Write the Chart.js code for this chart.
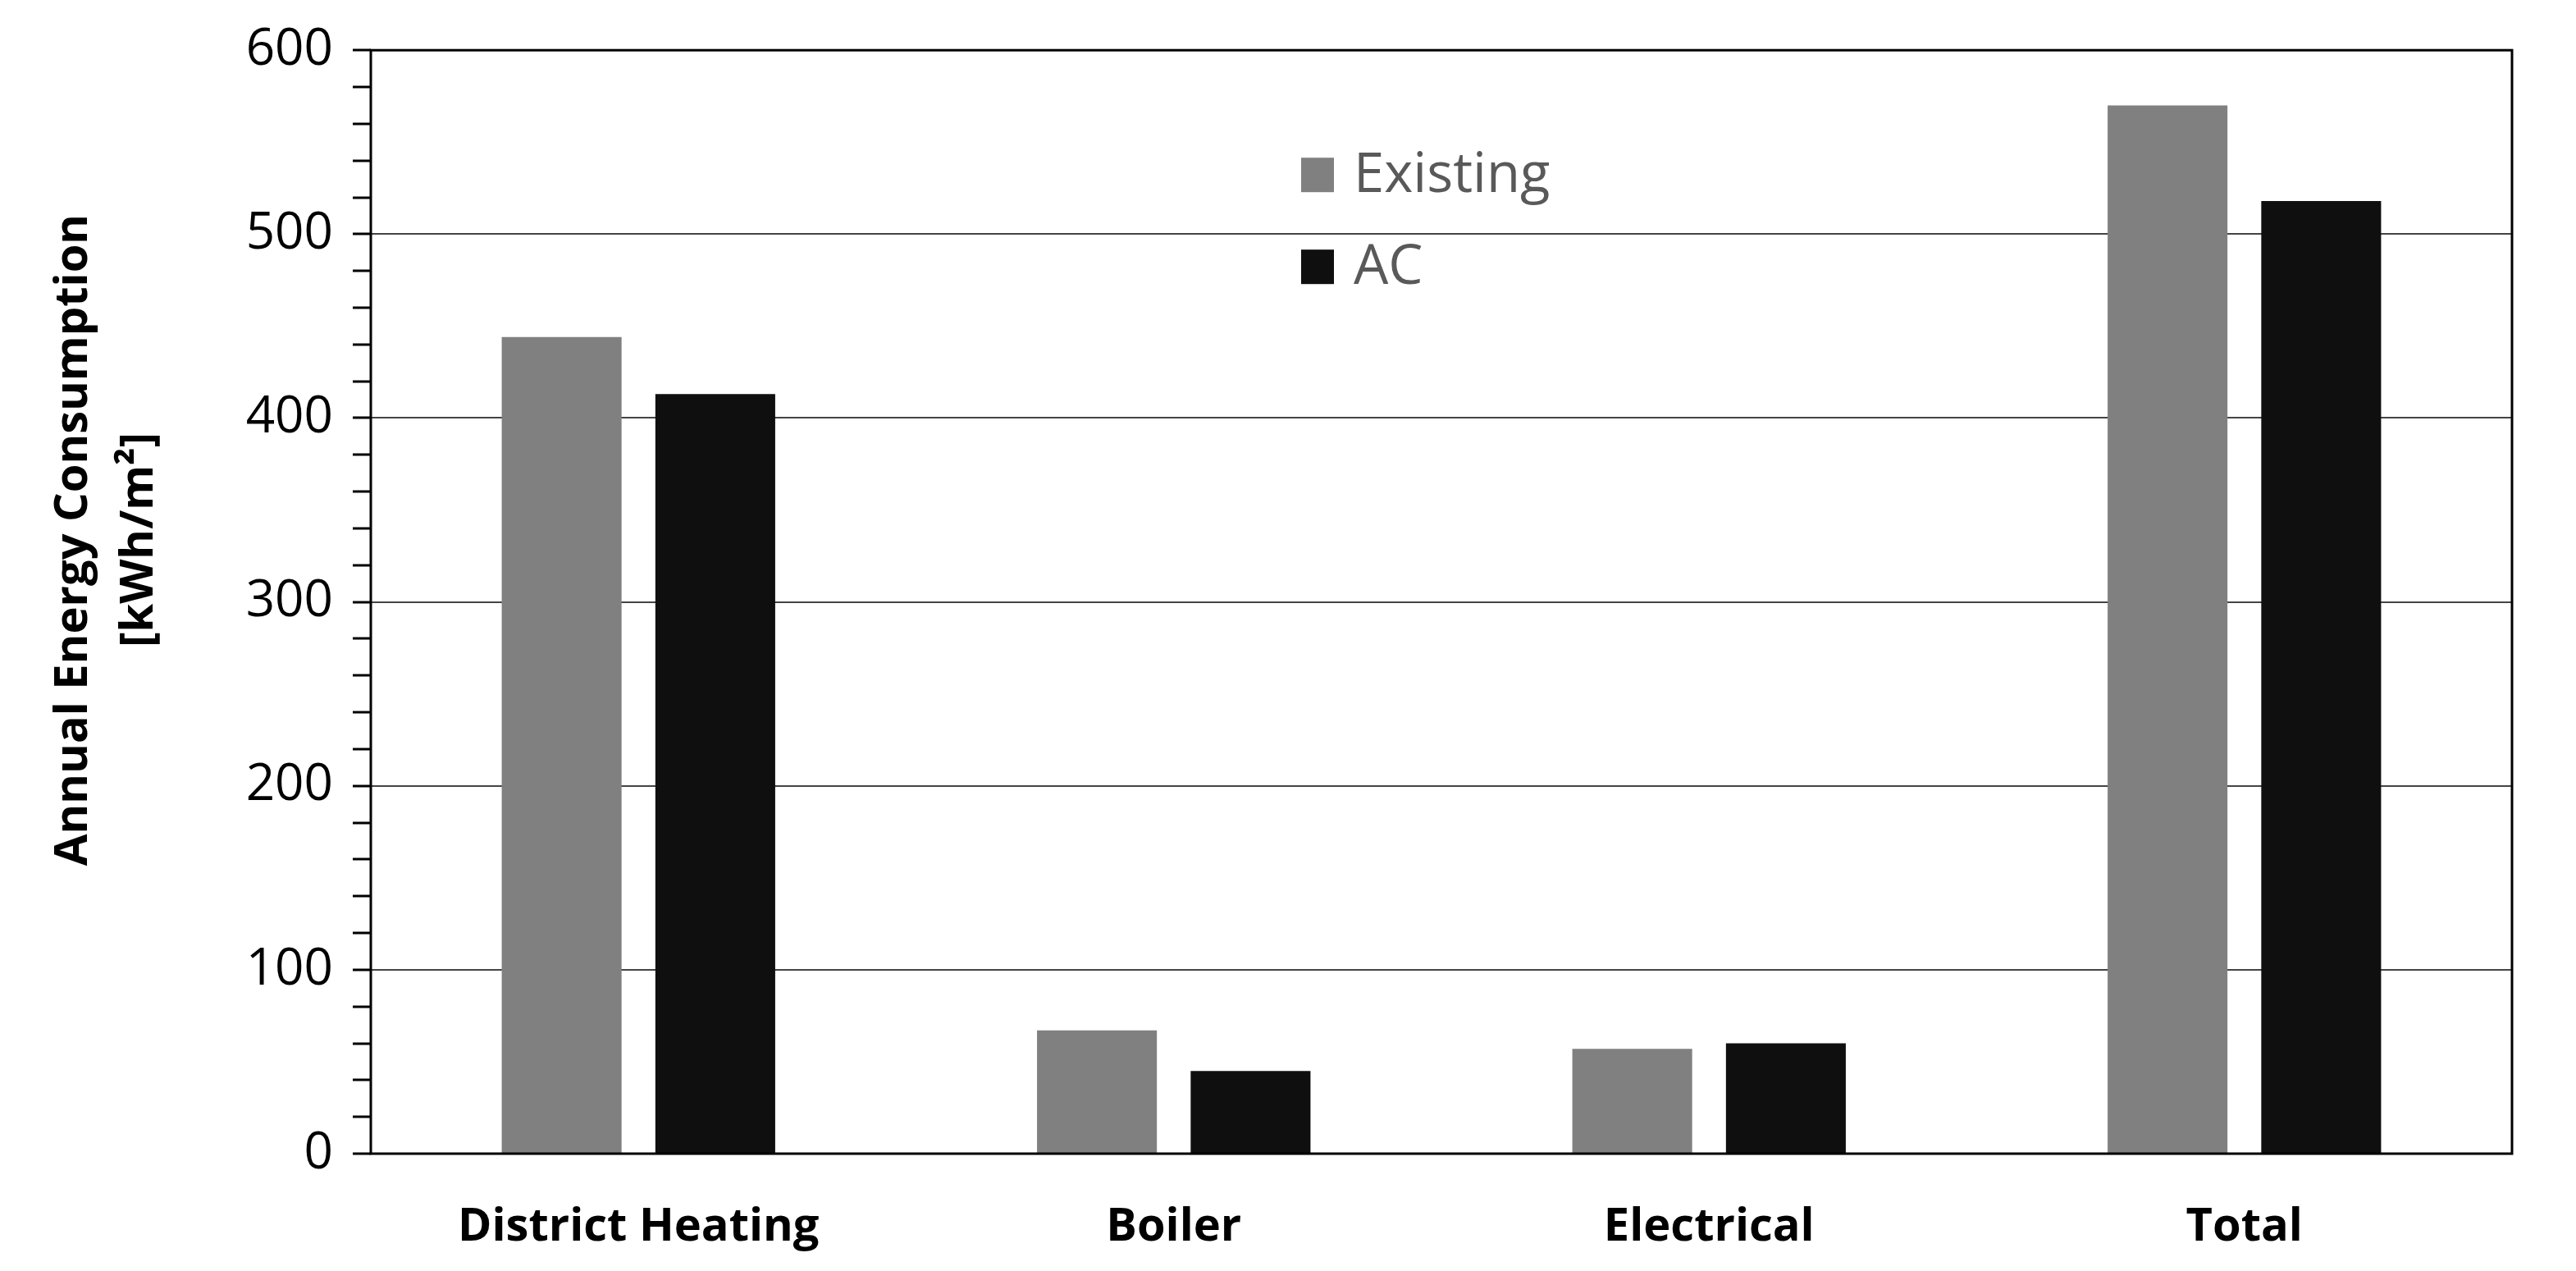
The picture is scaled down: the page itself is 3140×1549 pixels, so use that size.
<!DOCTYPE html>
<html>
<head>
<meta charset="utf-8">
<script src="https://cdn.jsdelivr.net/npm/chart.js@4"></script>
<style>
  html, body { margin: 0; padding: 0; background: #fff; }
  #myChart { display: block; }
</style>
</head>
<body>
<canvas id="myChart" width="3140" height="1549"></canvas>
<script>
// Chart values
const categories = ["District Heating", "Boiler", "Electrical", "Total"];
const seriesNames = ["Existing", "AC"];
const existingValues = [444, 67, 57, 570];
const acValues = [413, 45, 60, 518];
const yTitleLines = ["Annual Energy Consumption", "[kWh/m\u00B2]"];

const FONT = "'Open Sans', 'Noto Sans', sans-serif";

// Legend + frame + y title drawn on top of the chart
const extrasPlugin = {
  id: "extras",
  afterDraw(chart) {
    const ctx = chart.ctx;
    const area = chart.chartArea;
    ctx.save();

    // frame around plot
    ctx.strokeStyle = "#000";
    ctx.lineWidth = 3;
    ctx.strokeRect(area.left, area.top, area.right - area.left, area.bottom - area.top);

    // legend inside plot
    const lx = area.left + 1134;
    let ly = area.top + 152;
    chart.data.datasets.forEach((ds) => {
      ctx.fillStyle = ds.backgroundColor;
      ctx.fillRect(lx, ly - 21, 40, 42);
      ctx.fillStyle = "#595959";
      ctx.font = "67px " + FONT;
      ctx.textAlign = "left";
      ctx.textBaseline = "middle";
      ctx.fillText(ds.label, lx + 64, ly + 2);
      ly += 112;
    });

    // y axis title
    ctx.fillStyle = "#000";
    ctx.font = "bold 56px " + FONT;
    ctx.textAlign = "center";
    ctx.textBaseline = "middle";
    yTitleLines.forEach((line, i) => {
      ctx.save();
      ctx.translate(90 + i * 80, 658);
      ctx.rotate(-Math.PI / 2);
      ctx.fillText(line, 0, 0);
      ctx.restore();
    });
    ctx.restore();
  },
};

const data = {
  labels: categories,
  datasets: [
    {
      label: seriesNames[0],
      data: existingValues,
      backgroundColor: "#808080",
      categoryPercentage: 0.574,
      barPercentage: 0.78,
    },
    {
      label: seriesNames[1],
      data: acValues,
      backgroundColor: "#0f0f0f",
      categoryPercentage: 0.574,
      barPercentage: 0.78,
    },
  ],
};

const config = {
  type: "bar",
  data: data,
  options: {
    responsive: false,
    animation: false,
    devicePixelRatio: 1,
    layout: { padding: { top: 60, right: 78, left: 0, bottom: 0 } },
    plugins: {
      legend: { display: false },
      tooltip: { enabled: false },
    },
    scales: {
      x: {
        grid: { display: false, drawTicks: false },
        border: { display: false },
        ticks: {
          color: "#000",
          padding: 56,
          font: { family: FONT, size: 56, weight: "bold" },
        },
        afterFit(scale) {
          scale.height = 143;
        },
      },
      y: {
        min: 0,
        max: 600,
        border: { display: false },
        grid: {
          drawOnChartArea: true,
          tickLength: 22,
          tickColor: "#000",
          tickWidth: 3,
          lineWidth: 2,
          borderDash: [2, 3],
          color: (c) => {
            const v = c.tick ? c.tick.value : 0;
            return v % 100 === 0 && v > 0 && v < 600 ? "#444" : "rgba(0,0,0,0)";
          },
        },
        ticks: {
          stepSize: 20,
          autoSkip: false,
          color: "#000",
          padding: 24,
          font: { family: FONT, size: 62 },
          callback: (v) => (v % 100 === 0 ? v : ""),
        },
        afterFit(scale) {
          scale.width = 452;
        },
      },
    },
  },
  plugins: [extrasPlugin],
};

const ctx = document.getElementById("myChart").getContext("2d");
const myChart = new Chart(ctx, config);
</script>
</body>
</html>
